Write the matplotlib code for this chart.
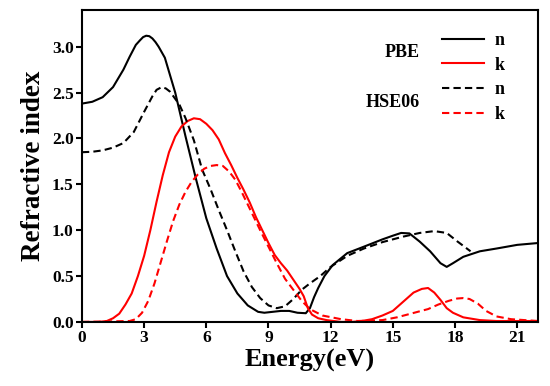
import matplotlib
matplotlib.use('Agg')
import matplotlib.pyplot as plt
import numpy as np

# PBE refractive index n
e_pbe_n = [0, 0.5, 1.0, 1.5, 2.0, 2.3, 2.6, 2.8, 2.95, 3.1, 3.25, 3.4, 3.55, 3.7, 4.0,
           4.5, 5.0, 5.5, 6.0, 6.5, 7.0, 7.5, 8.0, 8.5, 8.8, 9.2, 9.6, 10.0, 10.4,
           10.8, 11.0, 11.2, 11.4, 11.7, 12.1, 12.8, 13.6, 14.5, 15.0, 15.4, 15.8,
           16.3, 16.8, 17.3, 17.6, 17.9, 18.4, 19.2, 20.0, 21.0, 22.0]
n_pbe = [2.38, 2.40, 2.45, 2.56, 2.75, 2.89, 3.02, 3.07, 3.105, 3.12, 3.115, 3.09,
         3.05, 3.00, 2.88, 2.50, 2.02, 1.56, 1.13, 0.80, 0.50, 0.31, 0.18, 0.11, 0.10,
         0.11, 0.12, 0.12, 0.10, 0.095, 0.15, 0.27, 0.37, 0.50, 0.62, 0.75, 0.82, 0.90,
         0.94, 0.97, 0.965, 0.875, 0.77, 0.64, 0.60, 0.64, 0.71, 0.77, 0.80, 0.84, 0.86]

# PBE extinction coefficient k
e_pbe_k = [0, 0.8, 1.2, 1.5, 1.8, 2.1, 2.4, 2.7, 3.0, 3.3, 3.6, 3.9, 4.2, 4.5, 4.8,
           5.1, 5.4, 5.7, 6.0, 6.3, 6.6, 6.9, 7.2, 7.5, 7.8, 8.1, 8.4, 8.7, 9.0, 9.3,
           9.6, 9.9, 10.2, 10.5, 10.7, 10.9, 11.1, 11.4, 11.8, 12.5, 13.0, 13.5, 14.0,
           14.5, 15.0, 15.5, 16.0, 16.4, 16.7, 17.0, 17.3, 17.6, 17.9, 18.4, 19.2,
           20.0, 22.0]
k_pbe = [0, 0.0, 0.01, 0.04, 0.09, 0.19, 0.31, 0.50, 0.72, 1.00, 1.31, 1.60, 1.85,
         2.02, 2.13, 2.19, 2.22, 2.21, 2.16, 2.09, 1.99, 1.84, 1.71, 1.57, 1.44, 1.30,
         1.14, 1.00, 0.86, 0.73, 0.64, 0.56, 0.46, 0.36, 0.28, 0.15, 0.08, 0.04, 0.02,
         0.0, 0.0, 0.01, 0.03, 0.07, 0.12, 0.22, 0.32, 0.36, 0.37, 0.32, 0.24, 0.15,
         0.10, 0.05, 0.02, 0.01, 0.01]

# HSE06 refractive index n
e_hse_n = [0, 0.5, 1.0, 1.5, 2.0, 2.5, 3.0, 3.4, 3.6, 3.85, 4.05, 4.25, 4.7, 5.0, 5.4,
           5.8, 6.2, 6.6, 7.0, 7.4, 7.8, 8.2, 8.6, 9.0, 9.4, 9.8, 10.2, 10.6, 11.0,
           11.5, 12.0, 12.8, 13.6, 14.5, 15.5, 16.3, 17.0, 17.6, 18.1, 18.75]
n_hse = [1.85, 1.855, 1.87, 1.90, 1.95, 2.07, 2.29, 2.46, 2.53, 2.56, 2.545, 2.51,
         2.37, 2.22, 1.98, 1.66, 1.45, 1.22, 1.00, 0.77, 0.55, 0.38, 0.26, 0.18, 0.15,
         0.17, 0.25, 0.35, 0.42, 0.50, 0.60, 0.72, 0.80, 0.87, 0.93, 0.97, 0.99, 0.97,
         0.88, 0.77]

# HSE06 extinction coefficient k
e_hse_k = [0, 2.3, 2.6, 2.9, 3.2, 3.5, 3.8, 4.1, 4.4, 4.7, 5.0, 5.3, 5.6, 5.9, 6.2,
           6.5, 6.8, 7.1, 7.4, 7.7, 8.0, 8.3, 8.6, 9.0, 9.4, 9.8, 10.2, 10.6, 11.0,
           11.6, 12.5, 13.3, 14.5, 15.2, 15.7, 16.2, 16.7, 17.2, 17.7, 18.1, 18.4,
           18.7, 19.1, 19.5, 20.0, 20.7, 22.0]
k_hse = [0, 0.01, 0.03, 0.10, 0.23, 0.42, 0.65, 0.88, 1.10, 1.28, 1.42, 1.53, 1.61,
         1.67, 1.70, 1.71, 1.70, 1.64, 1.55, 1.42, 1.28, 1.14, 1.00, 0.82, 0.64, 0.47,
         0.35, 0.23, 0.14, 0.07, 0.03, 0.01, 0.02, 0.05, 0.08, 0.11, 0.14, 0.19, 0.23,
         0.255, 0.26, 0.25, 0.20, 0.12, 0.06, 0.03, 0.01]

x_ticks = [0, 3, 6, 9, 12, 15, 18, 21]
y_ticks = [0.0, 0.5, 1.0, 1.5, 2.0, 2.5, 3.0]

plt.rcParams['font.family'] = ['Liberation Serif', 'DejaVu Serif']
plt.rcParams['font.weight'] = 'bold'

fig = plt.figure(figsize=(5.5, 3.86), dpi=100)
ax = fig.add_axes([0.149, 0.166, 0.829, 0.808])

lw = 1.5
dash = (3.5, 2.0)
l1, = ax.plot(e_pbe_n, n_pbe, color='k', lw=lw, label='n')
l2, = ax.plot(e_pbe_k, k_pbe, color='#ff0000', lw=lw, label='k')
l3, = ax.plot(e_hse_n, n_hse, color='k', lw=lw, ls='--', dashes=dash, label='n')
l4, = ax.plot(e_hse_k, k_hse, color='#ff0000', lw=lw, ls='--', dashes=dash, label='k')

ax.set_xlim(0, 22)
ax.set_ylim(0, 3.4)
ax.set_xticks(x_ticks)
ax.set_yticks(y_ticks)
ax.set_yticklabels(['%.1f' % v for v in y_ticks])
ax.tick_params(direction='out', length=4, width=1.5, labelsize=12.5, pad=2)
for sp in ax.spines.values():
    sp.set_linewidth(1.5)

ax.set_xlabel('Energy(eV)', fontsize=19, fontweight='bold', labelpad=2)
ax.set_ylabel('Refractive index', fontsize=19.5, fontweight='bold', labelpad=4)

leg = ax.legend(handles=[l1, l2, l3, l4], loc='upper left', bbox_to_anchor=(0.77, 0.958),
                frameon=False, fontsize=13, handlelength=2.3, handletextpad=0.6,
                labelspacing=0.42, borderpad=0)
for t in leg.get_texts():
    t.set_fontweight('bold')

ax.text(0.74, 0.865, 'PBE', transform=ax.transAxes, ha='right', va='center',
        fontsize=13, fontweight='bold')
ax.text(0.74, 0.705, 'HSE06', transform=ax.transAxes, ha='right', va='center',
        fontsize=13, fontweight='bold')

fig.savefig('out.png', dpi=100)
